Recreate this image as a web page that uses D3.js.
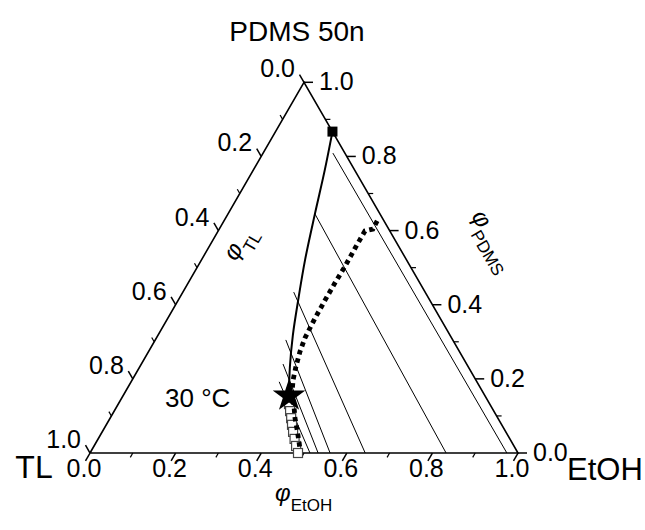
<!DOCTYPE html>
<html>
<head>
<meta charset="utf-8">
<script src="https://cdn.jsdelivr.net/npm/d3@7"></script>
<style>
  body { margin: 0; background: #fff; }
  svg { display: block; }
  text { font-family: "Liberation Sans", Arial, sans-serif; fill: #000; }
</style>
</head>
<body>
<svg id="chart" width="645" height="530"></svg>
<script>
// Compositions are given as volume fractions (EtOH, PDMS); TL = 1 - EtOH - PDMS.
const majorTicks = [0, 0.2, 0.4, 0.6, 0.8, 1.0];
const minorTicks = [0.1, 0.3, 0.5, 0.7, 0.9];

// Binodal (solid line), from the PDMS-rich end down to the critical point
const binodalEtOH = [0.133, 0.167, 0.203, 0.242, 0.280, 0.315, 0.351, 0.388];
const binodalPDMS = [0.867, 0.763, 0.645, 0.521, 0.413, 0.318, 0.232, 0.154];

// Tie lines: start on the binodal, end on the TL-EtOH side
const tieStartEtOH = [0.163, 0.203, 0.259, 0.305, 0.331, 0.346];
const tieStartPDMS = [0.809, 0.645, 0.434, 0.305, 0.240, 0.192];
const tieEndEtOH   = [0.974, 0.832, 0.643, 0.561, 0.533, 0.514];

// Dotted curve
const dotEtOH = [0.358, 0.359, 0.343, 0.343, 0.344, 0.343, 0.343, 0.344, 0.347, 0.354, 0.364, 0.376, 0.391, 0.413, 0.432, 0.453, 0.472, 0.487];
const dotPDMS = [0.626, 0.604, 0.599, 0.553, 0.505, 0.459, 0.413, 0.364, 0.310, 0.273, 0.235, 0.197, 0.162, 0.127, 0.094, 0.062, 0.032, 0.008];

// Open squares (TL-rich phase compositions)
const openEtOH = [0.399, 0.411, 0.423, 0.434, 0.446, 0.459, 0.472, 0.486];
const openPDMS = [0.132, 0.113, 0.094, 0.076, 0.057, 0.038, 0.019, 0.000];

// Critical point (star) and PDMS-rich end point (filled square)
const starPoint = { etoh: 0.388, pdms: 0.154 };
const endPoint = { etoh: 0.133, pdms: 0.867 };

const svg = d3.select("#chart");

const x = d3.scaleLinear().domain([0, 1]).range([90, 518]);
const y = d3.scaleLinear().domain([0, 1]).range([453, 82.3]);
const px = (e, p) => x(e + p / 2);
const py = p => y(p);

const line = d3.line().x(d => px(d[0], d[1])).y(d => py(d[1]));

// Triangle frame
svg.append("path")
  .attr("d", line([[0, 0], [1, 0], [0, 1], [0, 0]]))
  .attr("fill", "none").attr("stroke", "#000").attr("stroke-width", 1.6)
  .attr("stroke-linejoin", "miter");

// Axes: point on edge, outward tick direction, label placement
const axes = [
  { name: "EtOH", at: v => [px(v, 0), py(0)], dir: [-0.5, 0.866],
    label: (g, p) => g.attr("x", p[0] - 6).attr("y", p[1] + 24).attr("text-anchor", "middle") },
  { name: "TL", at: v => [px(0, 1 - v), py(1 - v)], dir: [-0.5, -0.866],
    label: (g, p) => g.attr("x", p[0] - 9).attr("y", p[1] - 14).attr("text-anchor", "end").attr("dominant-baseline", "central") },
  { name: "PDMS", at: v => [px(1 - v, v), py(v)], dir: [1, 0],
    label: (g, p) => g.attr("x", p[0] + 15).attr("y", p[1] - 1).attr("text-anchor", "start").attr("dominant-baseline", "central") }
];

const fmt = d3.format(".1f");
axes.forEach(ax => {
  const g = svg.append("g");
  majorTicks.forEach(v => {
    const p = ax.at(v);
    g.append("line").attr("x1", p[0]).attr("y1", p[1])
      .attr("x2", p[0] + ax.dir[0] * 9).attr("y2", p[1] + ax.dir[1] * 9)
      .attr("stroke", "#000").attr("stroke-width", 1.5);
    ax.label(g.append("text").attr("font-size", 25).text(fmt(v)), p);
  });
  minorTicks.forEach(v => {
    const p = ax.at(v);
    g.append("line").attr("x1", p[0]).attr("y1", p[1])
      .attr("x2", p[0] + ax.dir[0] * 5).attr("y2", p[1] + ax.dir[1] * 5)
      .attr("stroke", "#000").attr("stroke-width", 1.2);
  });
});

// Tie lines
tieStartEtOH.forEach((e, i) => {
  svg.append("path")
    .attr("d", line([[e, tieStartPDMS[i]], [tieEndEtOH[i], 0]]))
    .attr("fill", "none").attr("stroke", "#000").attr("stroke-width", 1);
});

// Binodal
svg.append("path")
  .attr("d", d3.line().curve(d3.curveCatmullRom)
    .x(d => px(d[0], d[1])).y(d => py(d[1]))(binodalEtOH.map((e, i) => [e, binodalPDMS[i]])))
  .attr("fill", "none").attr("stroke", "#000").attr("stroke-width", 2);

// Open squares
svg.append("g").selectAll("rect")
  .data(openEtOH.map((e, i) => [e, openPDMS[i]]))
  .join("rect")
  .attr("x", d => px(d[0], d[1]) - 4.5).attr("y", d => py(d[1]) - 4.5)
  .attr("width", 9).attr("height", 9)
  .attr("fill", "#fff").attr("stroke", "#444").attr("stroke-width", 1.2);

// Dotted curve
svg.append("path")
  .attr("d", line(dotEtOH.map((e, i) => [e, dotPDMS[i]])))
  .attr("fill", "none").attr("stroke", "#000").attr("stroke-width", 4.8)
  .attr("stroke-dasharray", "4.5 4");

// Critical point star
svg.append("path")
  .attr("d", d3.symbol().type(d3.symbolStar).size(330)())
  .attr("transform", `translate(${px(starPoint.etoh, starPoint.pdms)},${py(starPoint.pdms)})`)
  .attr("fill", "#000");

// End point square
svg.append("rect")
  .attr("x", px(endPoint.etoh, endPoint.pdms) - 5).attr("y", py(endPoint.pdms) - 5)
  .attr("width", 10).attr("height", 10).attr("fill", "#000");

// Titles and labels
svg.append("text").attr("x", 297).attr("y", 41).attr("text-anchor", "middle")
  .attr("font-size", 28).text("PDMS 50n");
svg.append("text").attr("x", 34).attr("y", 478).attr("text-anchor", "middle")
  .attr("font-size", 32).text("TL");
svg.append("text").attr("x", 567).attr("y", 480).attr("text-anchor", "start")
  .attr("font-size", 31).text("EtOH");
svg.append("text").attr("x", 165).attr("y", 407).attr("font-size", 26).text("30 °C");

function axisTitle(tx, ty, angle, sub) {
  const t = svg.append("text")
    .attr("transform", `translate(${tx},${ty}) rotate(${angle})`);
  t.append("tspan").attr("font-size", 24).attr("font-style", "italic").text("φ");
  t.append("tspan").attr("font-size", 17).attr("dy", 10).text(sub);
}
axisTitle(275, 501, 0, "EtOH");
axisTitle(471, 216, 60, "PDMS");
axisTitle(236, 262, -60, "TL");
</script>
</body>
</html>
